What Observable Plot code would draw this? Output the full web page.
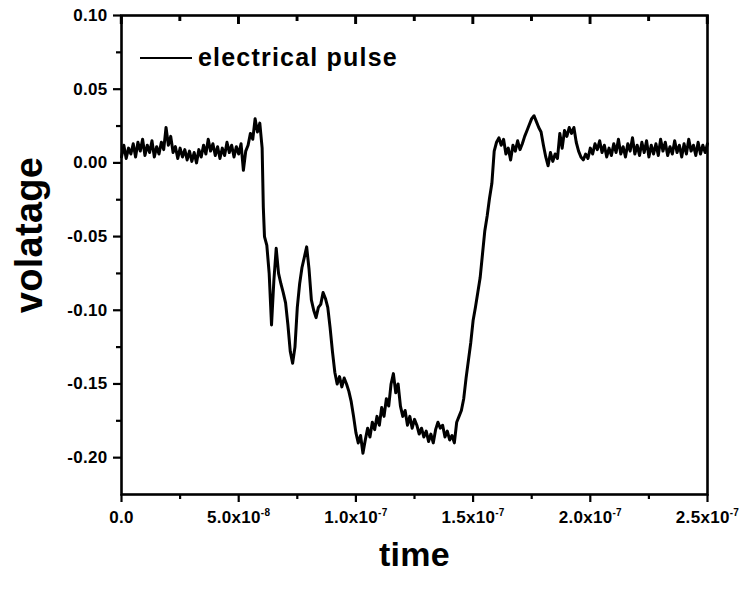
<!DOCTYPE html>
<html><head><meta charset="utf-8">
<script src="https://cdn.jsdelivr.net/npm/d3@7"></script>
<script src="https://cdn.jsdelivr.net/npm/@observablehq/plot@0.6"></script>
<style>
body{margin:0;background:#fff;}
#wrap{position:relative;width:752px;height:589px;}
#legend{position:absolute;left:140px;top:43px;display:flex;align-items:center;font:bold 25px 'Liberation Sans',Arial,sans-serif;letter-spacing:1.2px;color:#000;}
#legend .sw{display:inline-block;width:52px;height:0;border-top:2.5px solid #000;margin-right:6px;}
</style></head><body>
<div id="wrap"><div id="legend"><span class="sw"></span><span>electrical pulse</span></div></div>
<script>
// time in nanoseconds
const timeNs = [
0,1,2,3,4,5,6,7,8,9,10,11,12,13,14,15,16,17,18,19,20,21,22,23,24,25,26,27,28,29,
30,31,32,33,34,35,36,37,38,39,40,41,42,43,44,45,46,47,48,49,50,51,52,53,54,55,56,57,58,59,
60,60.5,61,62,63,64,65,66,67,68,69,70,71,72,73,74,75,76,77,78,79,80,81,82,83,84,85,86,87,88,89,
90,91,92,93,94,95,96,97,98,99,100,101,102,103,104,105,106,107,108,109,110,111,112,113,114,115,116,117,118,119,
120,121,122,123,124,125,126,127,128,129,130,131,132,133,134,135,136,137,138,139,140,141,142,143,144,145,146,147,148,149,
150,151,152,153,154,155,156,157,158,159,160,161,162,163,164,165,166,167,168,169,170,171,172,173,174,175,176,177,178,179,
180,181,182,183,184,185,186,187,188,189,190,191,192,193,194,195,196,197,198,199,200,201,202,203,204,205,206,207,208,209,
210,211,212,213,214,215,216,217,218,219,220,221,222,223,224,225,226,227,228,229,230,231,232,233,234,235,236,237,238,239,
240,241,242,243,244,245,246,247,248,249,250
];
// voltage
const voltage = [
0.004,0.012,0.003,0.010,0.006,0.013,0.004,0.014,0.008,0.016,0.005,0.012,0.007,0.015,0.004,0.011,0.006,0.014,0.009,0.024,
0.012,0.018,0.007,0.011,0.003,0.010,0.004,0.009,0.002,0.008,0.001,0.007,0.000,0.009,0.004,0.012,0.006,0.016,0.008,0.013,
0.005,0.011,0.003,0.010,0.005,0.014,0.007,0.012,0.004,0.011,0.006,0.013,-0.005,0.008,0.012,0.020,0.016,0.030,0.021,0.027,
0.010,-0.030,-0.050,-0.056,-0.075,-0.110,-0.080,-0.058,-0.075,-0.082,-0.088,-0.095,-0.110,-0.128,-0.136,-0.125,-0.098,-0.082,-0.071,-0.064,
-0.057,-0.072,-0.093,-0.100,-0.105,-0.098,-0.096,-0.088,-0.092,-0.098,-0.112,-0.128,-0.142,-0.150,-0.145,-0.152,-0.146,-0.150,-0.155,-0.162,
-0.172,-0.183,-0.190,-0.185,-0.197,-0.188,-0.180,-0.186,-0.176,-0.181,-0.172,-0.178,-0.166,-0.172,-0.160,-0.165,-0.150,-0.143,-0.156,-0.150,
-0.165,-0.172,-0.168,-0.178,-0.172,-0.180,-0.174,-0.178,-0.184,-0.180,-0.186,-0.182,-0.189,-0.184,-0.190,-0.181,-0.176,-0.180,-0.178,-0.186,
-0.182,-0.188,-0.185,-0.190,-0.176,-0.172,-0.168,-0.160,-0.146,-0.134,-0.122,-0.107,-0.098,-0.088,-0.078,-0.062,-0.046,-0.036,-0.024,-0.014,
0.008,0.014,0.017,0.012,0.016,0.006,0.010,0.002,0.012,0.008,0.015,0.009,0.013,0.018,0.022,0.026,0.030,0.032,0.028,0.024,
0.021,0.012,0.004,-0.002,0.007,0.001,0.006,0.003,0.020,0.010,0.022,0.018,0.024,0.020,0.024,0.014,0.008,0.004,0.002,0.006,
0.003,0.010,0.006,0.013,0.009,0.015,0.007,0.012,0.004,0.010,0.005,0.013,0.007,0.016,0.006,0.011,0.004,0.013,0.008,0.017,
0.006,0.012,0.005,0.014,0.007,0.015,0.004,0.012,0.006,0.013,0.005,0.016,0.008,0.014,0.005,0.011,0.006,0.015,0.007,0.012,
0.004,0.013,0.006,0.016,0.008,0.012,0.005,0.014,0.006,0.012,0.007,0.013
];

const xMajorTicks = [0, 5e-8, 1e-7, 1.5e-7, 2e-7, 2.5e-7];
const xMinorTicks = [2.5e-8, 7.5e-8, 1.25e-7, 1.75e-7, 2.25e-7];
const xTickBase = ["0.0", "5.0x10", "1.0x10", "1.5x10", "2.0x10", "2.5x10"];
const xTickExp = ["", "-8", "-7", "-7", "-7", "-7"];
const yMajorTicks = [0.10, 0.05, 0.00, -0.05, -0.10, -0.15, -0.20];
const yTickLabels = ["0.10", "0.05", "0.00", "-0.05", "-0.10", "-0.15", "-0.20"];
const yMinorTicks = [0.075, 0.025, -0.025, -0.075, -0.125, -0.175];

const data = timeNs.map((t, i) => ({time: t * 1e-9, v: voltage[i]}));

const xFmt = d => { const i = xMajorTicks.findIndex(t => Math.abs(t - d) < 1e-12); return i < 0 ? "" : xTickBase[i] + (xTickExp[i] ? "^" + xTickExp[i] : ""); };
const yFmt = d => { const i = yMajorTicks.findIndex(t => Math.abs(t - d) < 1e-9); return i < 0 ? "" : yTickLabels[i]; };

const W = 752, H = 589, mL = 121, mR = 45, mT = 15, mB = 95;
const frameH = H - mT - mB;

const chart = Plot.plot({
  width: W,
  height: H,
  marginLeft: mL,
  marginRight: mR,
  marginTop: mT,
  marginBottom: mB,
  style: "font: bold 17px 'Liberation Sans', Arial, sans-serif; letter-spacing: 0.3px; background: #fff; color: #000; overflow: visible;",
  x: {domain: [0, 2.5e-7]},
  y: {domain: [-0.225, 0.10]},
  marks: [
    Plot.frame({stroke: "#000", strokeWidth: 2.6}),
    Plot.line(data, {x: "time", y: "v", stroke: "#000", strokeWidth: 3, strokeLinejoin: "round"}),
    Plot.axisX({ticks: xMajorTicks, tickSize: 8, tickPadding: 8, tickFormat: xFmt, label: null, strokeWidth: 2.2}),
    Plot.axisX({ticks: xMinorTicks, tickSize: 5, tickFormat: () => "", label: null, strokeWidth: 2.2}),
    Plot.tickX(xMajorTicks, {x: d => d, insetBottom: frameH - 9, stroke: "#000", strokeWidth: 2.4}),
    Plot.tickX(xMinorTicks, {x: d => d, insetBottom: frameH - 6, stroke: "#000", strokeWidth: 2.4}),
    Plot.axisY({ticks: yMajorTicks, tickSize: 8, tickPadding: 6, tickFormat: yFmt, label: null, strokeWidth: 2.2}),
    Plot.axisY({ticks: yMinorTicks, tickSize: 5, tickFormat: () => "", label: null, strokeWidth: 2.2}),
    Plot.text(["time"], {frameAnchor: "bottom", dy: 71, fontSize: 34, fontWeight: "bold", fill: "#000"}),
    Plot.text(["volatage"], {frameAnchor: "left", textAnchor: "middle", dx: -92, dy: -20, rotate: -90, fontSize: 38, fontWeight: "bold", fill: "#000"})
  ]
});

// render superscript exponents on x tick labels
const NS = "http://www.w3.org/2000/svg";
chart.querySelectorAll("text").forEach(t => {
  const s = t.textContent;
  if (s.includes("^")) {
    const [base, exp] = s.split("^");
    t.textContent = "";
    const a = document.createElementNS(NS, "tspan");
    a.textContent = base;
    const b = document.createElementNS(NS, "tspan");
    b.textContent = exp;
    b.setAttribute("dy", "-7");
    b.setAttribute("font-size", "10");
    t.appendChild(a); t.appendChild(b);
  }
});

// inward ticks along the top edge, placed with the chart's own x scale
const sx = chart.scale("x");
const topG = document.createElementNS(NS, "g");
topG.setAttribute("stroke", "#000");
topG.setAttribute("stroke-width", "2.4");
[[xMajorTicks, 9], [xMinorTicks, 6]].forEach(([ticks, len]) => {
  ticks.forEach(t => {
    const ln = document.createElementNS(NS, "line");
    const px = sx.apply(t);
    ln.setAttribute("x1", px); ln.setAttribute("x2", px);
    ln.setAttribute("y1", mT); ln.setAttribute("y2", mT + len);
    topG.appendChild(ln);
  });
});
chart.appendChild(topG);

document.getElementById("wrap").prepend(chart);
</script>
</body></html>
